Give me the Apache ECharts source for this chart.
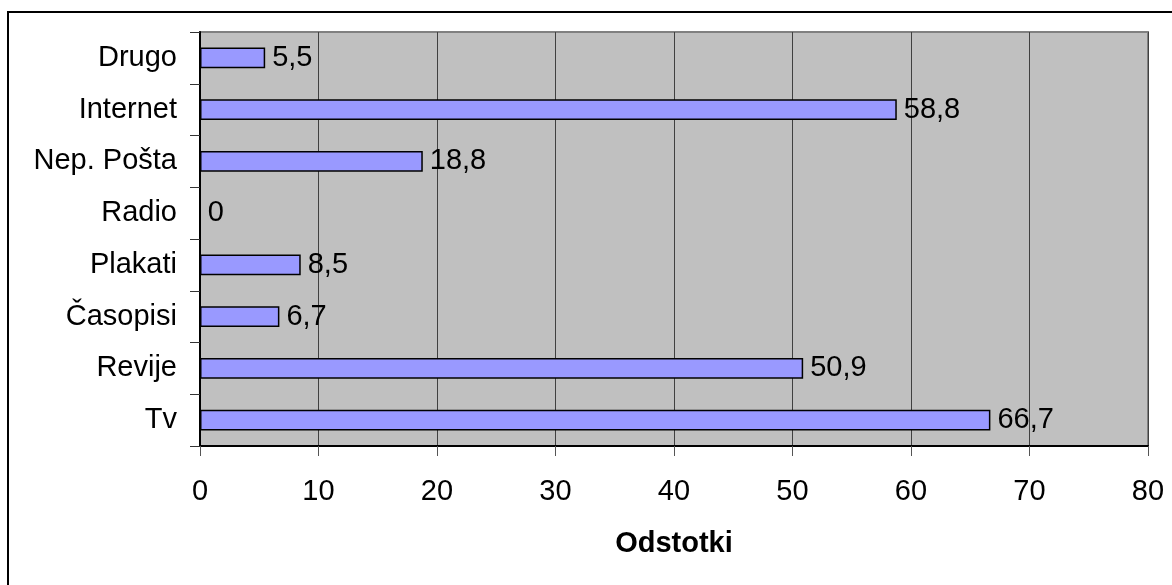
<!DOCTYPE html>
<html>
<head>
<meta charset="utf-8">
<script src="https://cdn.jsdelivr.net/npm/echarts@6/dist/echarts.min.js"></script>
<style>
html,body{margin:0;padding:0;background:#fff;}
#chart{width:1172px;height:585px;}
</style>
</head>
<body>
<div id="chart"></div>
<script>
// Categories listed top to bottom
const categories = ['Drugo', 'Internet', 'Nep. Pošta', 'Radio', 'Plakati', 'Časopisi', 'Revije', 'Tv'];
const values = [5.5, 58.8, 18.8, 0, 8.5, 6.7, 50.9, 66.7];
const xTickValues = [0, 10, 20, 30, 40, 50, 60, 70, 80];
const xAxisTitle = 'Odstotki';

const FONT = '"Liberation Sans", Arial, sans-serif';
const FS = 29;
const chart = echarts.init(document.getElementById('chart'), null, {renderer: 'canvas'});
chart.setOption({
  animation: false,
  backgroundColor: '#ffffff',
  graphic: [{
    type: 'rect',
    shape: {x: 8, y: 12, width: 1200, height: 620},
    style: {fill: 'none', stroke: '#000', lineWidth: 2},
    silent: true,
    z: -1
  }],
  grid: {
    left: 200, right: 24, top: 32, bottom: 139,
    show: true, backgroundColor: '#C0C0C0', borderColor: '#808080', borderWidth: 2
  },
  xAxis: {
    type: 'value',
    min: xTickValues[0], max: xTickValues[xTickValues.length - 1], interval: 10,
    name: xAxisTitle, nameLocation: 'middle', nameGap: 83,
    nameTextStyle: {fontFamily: FONT, fontSize: FS, fontWeight: 'bold', color: '#000'},
    axisLine: {show: true, lineStyle: {color: '#000', width: 2}},
    axisTick: {show: true, length: 10, lineStyle: {color: '#555', width: 1}},
    axisLabel: {fontFamily: FONT, fontSize: FS, color: '#000', margin: 31},
    splitLine: {show: true, lineStyle: {color: '#404040', width: 1}}
  },
  yAxis: {
    type: 'category',
    data: categories,
    inverse: true,
    axisLine: {show: true, lineStyle: {color: '#000', width: 2}},
    axisTick: {show: true, length: 10, lineStyle: {color: '#333', width: 1}},
    axisLabel: {fontFamily: FONT, fontSize: FS, color: '#000', margin: 23},
    splitLine: {show: false}
  },
  series: [{
    type: 'bar',
    data: values,
    barWidth: '40%',
    itemStyle: {color: '#9999FF', borderColor: '#000', borderWidth: 1.5},
    label: {
      show: true, position: 'right', distance: 7,
      fontFamily: FONT, fontSize: FS, color: '#000',
      formatter: p => String(p.value).replace('.', ',')
    }
  }]
});
</script>
</body>
</html>
